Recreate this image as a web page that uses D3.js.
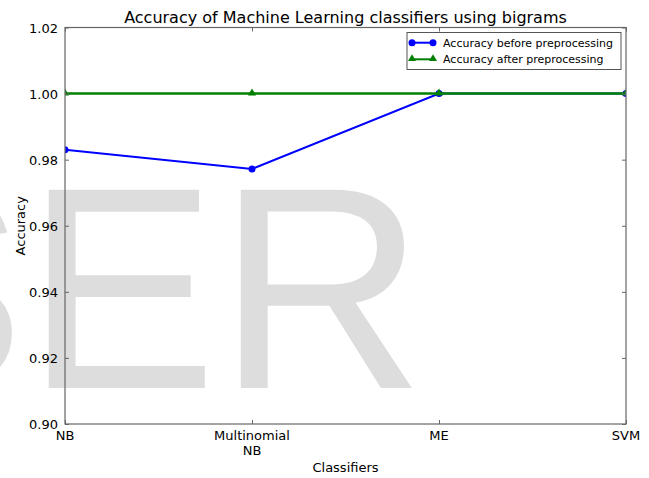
<!DOCTYPE html>
<html>
<meta charset="utf-8">
<title>accuracy bigrams</title>
<style>
html,body{
  margin:0;
}
svg {
  background-color: #fff;
}
text {
  font-family: "DejaVu Sans", sans-serif;
  fill: #000;
}
</style>
<script src="https://d3js.org/d3.v7.min.js"></script>
<body>
<script>

var classifiers = ["NB", "Multinomial\nNB", "ME", "SVM"];
var beforePre = [0.983, 0.9772, 1.0, 1.0];
var afterPre = [1.0, 1.0, 1.0, 1.0];
var yTicks = [0.90, 0.92, 0.94, 0.96, 0.98, 1.00, 1.02];
var seriesNames = ["Accuracy before preprocessing", "Accuracy after preprocessing"];

var width = 649, height = 478;
var pLeft = 65, pRight = 626, pTop = 27.5, pBottom = 424;

var svg = d3.select("body").append("svg")
    .attr("width", width)
    .attr("height", height);

// watermark behind everything
svg.append("text")
    .attr("x", -167)
    .attr("y", 388)
    .style("font-family", "'Liberation Sans', Arial, sans-serif")
    .style("font-size", "288px")
    .style("fill", "#dddddd")
    .text("SER");

var x = d3.scalePoint()
    .domain(classifiers)
    .range([pLeft, pRight])
    .padding(0);

var y = d3.scaleLinear()
    .domain([0.90, 1.02])
    .range([pBottom, pTop]);

svg.append("clipPath").attr("id", "plotclip")
  .append("rect")
    .attr("x", pLeft).attr("y", pTop)
    .attr("width", pRight - pLeft).attr("height", pBottom - pTop);

var line = d3.line()
    .x(function(d, i) { return x(classifiers[i]); })
    .y(function(d) { return y(d); });

var plot = svg.append("g").attr("clip-path", "url(#plotclip)");

var tri = d3.symbol().type(d3.symbolTriangle).size(28);

plot.append("path")
    .datum(beforePre)
    .attr("d", line)
    .attr("fill", "none")
    .attr("stroke", "#0000ff")
    .attr("stroke-width", 2);

plot.selectAll("circle.before")
    .data(beforePre)
  .enter().append("circle")
    .attr("class", "before")
    .attr("cx", function(d, i) { return x(classifiers[i]); })
    .attr("cy", function(d) { return y(d); })
    .attr("r", 3.5)
    .attr("fill", "#0000ff");

// green drawn on top, a touch wider so the blue edge underneath doesn't tint it
plot.append("path")
    .datum(afterPre)
    .attr("d", line)
    .attr("fill", "none")
    .attr("stroke", "#008000")
    .attr("stroke-width", 2.5);

plot.selectAll("path.after")
    .data(afterPre)
  .enter().append("path")
    .attr("class", "after")
    .attr("d", tri)
    .attr("transform", function(d, i) { return "translate(" + x(classifiers[i]) + "," + (y(d) - 0.5) + ")"; })
    .attr("fill", "#008000");

// frame and inward ticks (classic matplotlib style)
var axisColor = "#666";
svg.append("rect")
    .attr("x", pLeft).attr("y", pTop)
    .attr("width", pRight - pLeft).attr("height", pBottom - pTop)
    .attr("fill", "none")
    .attr("stroke", axisColor)
    .attr("stroke-width", 1.2);

var yAxisL = d3.axisLeft(y).tickValues(yTicks).tickSizeInner(-4).tickSizeOuter(0)
    .tickPadding(7).tickFormat(d3.format(".2f"));
var gy = svg.append("g").attr("transform", "translate(" + pLeft + ",0)").call(yAxisL);
gy.select(".domain").remove();
gy.selectAll(".tick line").attr("stroke", axisColor);
gy.selectAll(".tick text").style("font-size", "13px").attr("dy", "0.36em");
gy.attr("font-family", null);

var yAxisR = d3.axisRight(y).tickValues(yTicks).tickSizeInner(-4).tickSizeOuter(0);
var gyr = svg.append("g").attr("transform", "translate(" + pRight + ",0)").call(yAxisR);
gyr.select(".domain").remove();
gyr.selectAll(".tick text").remove();
gyr.selectAll(".tick line").attr("stroke", axisColor);

var xAxisB = d3.axisBottom(x).tickSizeInner(-4).tickSizeOuter(0);
var gx = svg.append("g").attr("transform", "translate(0," + pBottom + ")").call(xAxisB);
gx.select(".domain").remove();
gx.selectAll(".tick text").remove();
gx.selectAll(".tick line").attr("stroke", axisColor);

var xAxisT = d3.axisTop(x).tickSizeInner(-4).tickSizeOuter(0);
var gxt = svg.append("g").attr("transform", "translate(0," + pTop + ")").call(xAxisT);
gxt.select(".domain").remove();
gxt.selectAll(".tick text").remove();
gxt.selectAll(".tick line").attr("stroke", axisColor);

// x tick labels (multi-line)
svg.append("g").selectAll("text")
    .data(classifiers)
  .enter().append("text")
    .attr("text-anchor", "middle")
    .style("font-size", "13px")
    .attr("transform", function(d) { return "translate(" + x(d) + ",439.5)"; })
    .each(function(d) {
      var t = d3.select(this);
      d.split("\n").forEach(function(part, i) {
        t.append("tspan").attr("x", 0).attr("dy", i === 0 ? 0 : 15).text(part);
      });
    });

// title and axis labels
svg.append("text")
    .attr("x", (pLeft + pRight) / 2)
    .attr("y", 23)
    .attr("text-anchor", "middle")
    .style("font-size", "16px")
    .text("Accuracy of Machine Learning classifiers using bigrams");

svg.append("text")
    .attr("x", (pLeft + pRight) / 2)
    .attr("y", 472)
    .attr("text-anchor", "middle")
    .style("font-size", "13px")
    .text("Classifiers");

svg.append("text")
    .attr("transform", "translate(24.5," + ((pTop + pBottom) / 2) + ") rotate(-90)")
    .attr("text-anchor", "middle")
    .style("font-size", "13px")
    .text("Accuracy");

// legend
var lg = svg.append("g");
lg.append("rect")
    .attr("x", 407).attr("y", 32.5)
    .attr("width", 214).attr("height", 37)
    .attr("fill", "#fff")
    .attr("stroke", "#555")
    .attr("stroke-width", 1);

var rows = lg.selectAll("g.row")
    .data(seriesNames)
  .enter().append("g")
    .attr("class", "row")
    .attr("transform", function(d, i) { return "translate(0," + (42.7 + i * 16.6) + ")"; });

var legendColors = ["#0000ff", "#008000"];
rows.append("line")
    .attr("x1", 412).attr("x2", 433)
    .attr("stroke", function(d, i) { return legendColors[i]; })
    .attr("stroke-width", 2);

rows.each(function(d, i) {
  var r = d3.select(this);
  [412, 433].forEach(function(px) {
    if (i === 0) {
      r.append("circle").attr("cx", px).attr("cy", 0).attr("r", 3.5).attr("fill", legendColors[0]);
    } else {
      r.append("path").attr("d", tri).attr("transform", "translate(" + px + ",-0.5)").attr("fill", legendColors[1]);
    }
  });
});

rows.append("text")
    .attr("x", 443)
    .attr("dy", "0.36em")
    .style("font-size", "11px")
    .text(function(d) { return d; });

</script>
</body>
</html>
